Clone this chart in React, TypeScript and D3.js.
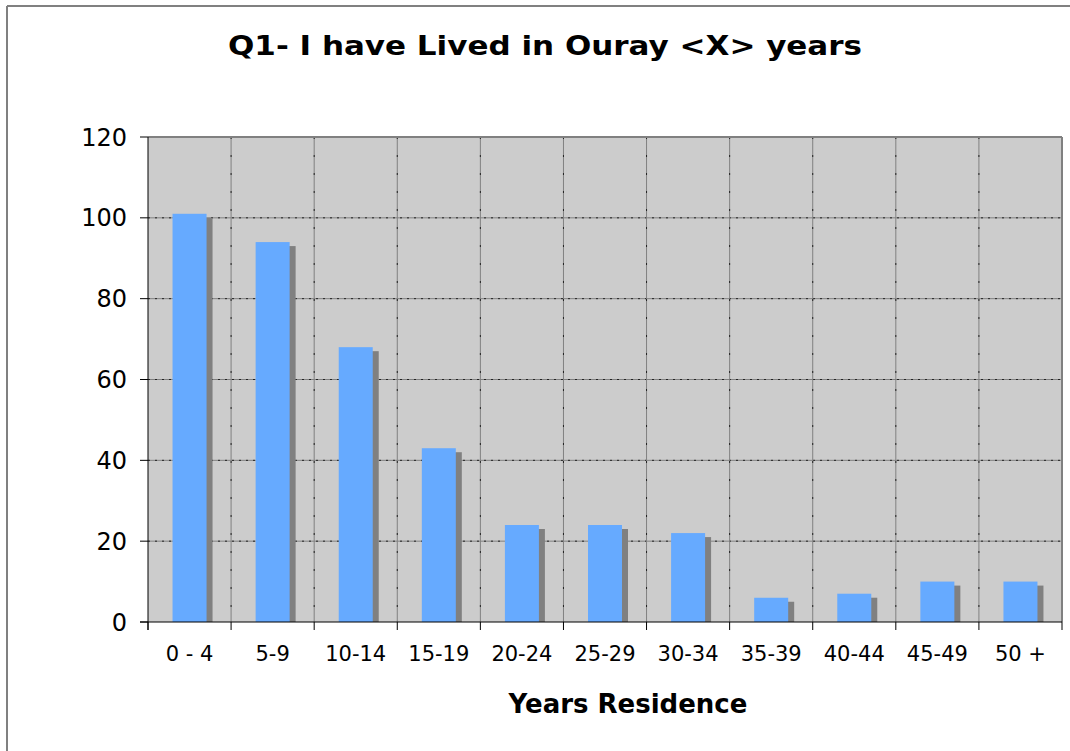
import React from "react";
import * as d3 from "d3";

const categories = ["0 - 4", "5-9", "10-14", "15-19", "20-24", "25-29", "30-34", "35-39", "40-44", "45-49", "50 +"];
const values = [101, 94, 68, 43, 24, 24, 22, 6, 7, 10, 10];
const yTicks = [0, 20, 40, 60, 80, 100, 120];

const W = 1070, H = 751;
const plot = { left: 148, top: 137, right: 1062, bottom: 622 };
const FONT = "'DejaVu Sans', Verdana, sans-serif";

export default function App() {
  const x = d3.scaleBand<string>().domain(categories).range([plot.left, plot.right]).paddingInner(0).paddingOuter(0);
  const y = d3.scaleLinear().domain([0, 120]).range([plot.bottom, plot.top]);
  const bw = x.bandwidth();
  const barW = 34;
  const boundaries = d3.range(categories.length + 1).map((i) => plot.left + i * bw);

  return (
    <svg width={W} height={H} style={{ position: "absolute", left: 0, top: 0, background: "#fff" }}>
      <rect x={0} y={0} width={W} height={H} fill="#fff" />
      <line x1={7} y1={6} x2={W} y2={6} stroke="#808080" strokeWidth={2} />
      <line x1={7} y1={6} x2={7} y2={H} stroke="#808080" strokeWidth={2} />
      <text x={228} y={55} textLength={634} lengthAdjust="spacingAndGlyphs" fontFamily={FONT} fontWeight="bold" fontSize={26}>
        Q1- I have Lived in Ouray &lt;X&gt; years
      </text>
      <rect x={plot.left} y={plot.top} width={plot.right - plot.left} height={plot.bottom - plot.top} fill="#cccccc" />
      {yTicks.slice(1, -1).map((t) => (
        <g key={"h" + t}>
          <line x1={plot.left} x2={plot.right} y1={y(t)} y2={y(t)} stroke="#808080" strokeWidth={1} />
          <line x1={plot.left} x2={plot.right} y1={y(t)} y2={y(t)} stroke="#222" strokeWidth={1} strokeDasharray="2,5" />
        </g>
      ))}
      {boundaries.slice(1, -1).map((b, i) => (
        <g key={"v" + i}>
          <line x1={b} x2={b} y1={plot.top} y2={plot.bottom} stroke="#808080" strokeWidth={1} />
          <line x1={b} x2={b} y1={plot.top} y2={plot.bottom} stroke="#222" strokeWidth={1} strokeDasharray="2,16" />
        </g>
      ))}
      {values.map((v, i) => {
        const cx = (x(categories[i]) as number) + bw / 2;
        const bx = cx - barW / 2;
        return (
          <g key={"b" + i}>
            <rect x={bx + 6} y={y(v) + 4} width={barW} height={plot.bottom - y(v) - 4} fill="#808080" />
            <rect x={bx} y={y(v)} width={barW} height={plot.bottom - y(v)} fill="#66aaff" />
          </g>
        );
      })}
      <line x1={plot.left} x2={plot.right} y1={plot.top} y2={plot.top} stroke="#808080" strokeWidth={2} />
      <line x1={plot.right} x2={plot.right} y1={plot.top} y2={plot.bottom} stroke="#808080" strokeWidth={2} />
      <line x1={plot.left} x2={plot.left} y1={plot.top} y2={plot.bottom + 8} stroke="#000" strokeWidth={1} />
      <line x1={plot.left - 8} x2={plot.right} y1={plot.bottom} y2={plot.bottom} stroke="#000" strokeWidth={1} />
      {yTicks.map((t) => (
        <g key={"yt" + t}>
          <line x1={plot.left - 8} x2={plot.left} y1={y(t)} y2={y(t)} stroke="#000" />
          <text x={127} y={y(t)} dy="0.36em" textAnchor="end" fontFamily={FONT} fontSize={24}>
            {t}
          </text>
        </g>
      ))}
      {boundaries.map((b, i) => (
        <line key={"xt" + i} x1={b} x2={b} y1={plot.bottom} y2={plot.bottom + 8} stroke="#000" />
      ))}
      {categories.map((c) => (
        <text key={"xl" + c} x={(x(c) as number) + bw / 2} y={661} textAnchor="middle" fontFamily={FONT} fontSize={21}>
          {c}
        </text>
      ))}
      <text x={628} y={713} textAnchor="middle" fontFamily={FONT} fontWeight="bold" fontSize={26}>
        Years Residence
      </text>
    </svg>
  );
}
